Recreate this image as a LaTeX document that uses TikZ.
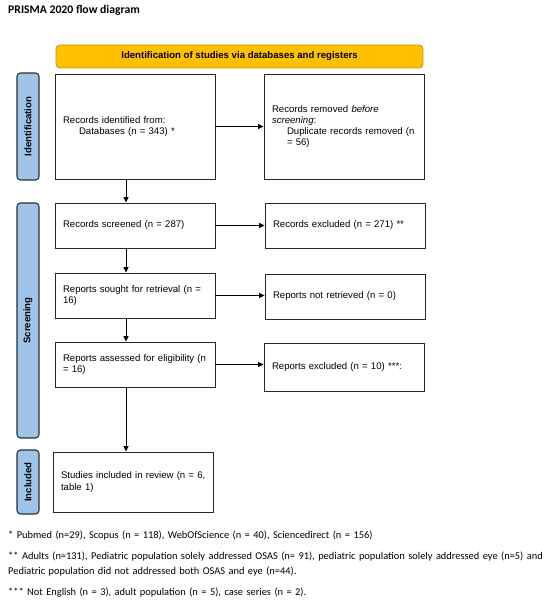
\documentclass[tikz,border=0pt]{standalone}
\usepackage{fontspec}
\setmainfont{Liberation Sans}
\newfontfamily\calfont{Carlito}
\usetikzlibrary{positioning,calc,arrows.meta}

\begin{document}
\begin{tikzpicture}[x=1pt,y=-1pt]
					\definecolor{prismayellow}{RGB}{255,192,0}
					\definecolor{prismaorange}{RGB}{200,150,20}
					\definecolor{phaseblue}{RGB}{160,196,232}
					\definecolor{phaseedge}{RGB}{40,48,60}
					\tikzset{
						box/.style={
							draw=black!85,
							line width=0.9pt,
							minimum width=160pt,
							text width=144pt,
							inner xsep=8pt,
							align=left,
							font=\fontsize{9.6}{11.3}\selectfont
						},
						phase/.style={
							draw=phaseedge,
							fill=phaseblue,
							line width=1.1pt,
							rounded corners=3.5pt,
							minimum height=22pt,
							inner sep=0pt,
							rotate=90,
							font=\fontsize{9.6}{11}\selectfont\bfseries
						},
						arr/.style={
							line width=0.8pt,
							-{Triangle[length=5.5pt,width=5pt]}
						}
					}
					\useasboundingbox (0,0) rectangle (550,604);
					
					% ======= Title =======
					\node[anchor=west,inner sep=0pt,font=\calfont\fontsize{11.7}{14}\selectfont\bfseries] (title) at (8,10) {PRISMA 2020 flow diagram};
					
					% ======= Banner =======
					\node[draw=prismaorange,fill=prismayellow,line width=0.9pt,rounded corners=4pt,
						minimum width=367pt,minimum height=23pt,inner sep=0pt,
						font=\fontsize{9.6}{11}\selectfont\bfseries] (banner) at (239.5,56.5)
						{Identification of studies via databases and registers};
					
					% ======= Phases =======
					\node[phase,minimum width=107pt] (pident) at (28,126.5) {Identification};
					\node[phase,minimum width=235pt] (pscreen) at (28,320.5) {Screening};
					\node[phase,minimum width=64pt] (pincl) at (28,482) {Included};
					
					% ======= Left column =======
					\node[box,minimum height=105pt] (recid) at (135,126.5)
						{Records identified from:\\\hspace*{16pt}Databases (n = 343) *};
					\node[box,minimum height=45pt] (screened) at (135,225.5)
						{Records screened (n = 287)};
					\node[box,minimum height=45pt] (sought) at (135,295.5)
						{Reports sought for retrieval (n =\\16)};
					\node[box,minimum height=45pt] (assessed) at (135,364.5)
						{Reports assessed for eligibility (n\\= 16)};
					\node[box,minimum height=60pt] (included) at (133,482)
						{\mbox{Studies included in review (n = 6,}\\table 1)};
					
					% ======= Right column =======
					\node[box,minimum height=105pt] (recrem) at (344,126.5)
						{Records removed \textit{before}\\\textit{screening}:\\\hspace*{15pt}Duplicate records removed (n\\\hspace*{15pt}= 56)};
					\node[box,minimum height=45pt] (excl) at (345,225.5)
						{Records excluded (n = 271) **};
					\node[box,minimum height=45pt] (notret) at (345,296.5)
						{Reports not retrieved (n = 0)};
					\node[box,minimum height=48pt,minimum width=158pt] (rptexcl) at (344,367)
						{Reports excluded (n = 10) ***:};
					
					% ======= Arrows =======
					\coordinate (vline) at (126,0);
					\draw[arr] (recid.south -| vline) -- (screened.north -| vline);
					\draw[arr] (screened.south -| vline) -- (sought.north -| vline);
					\draw[arr] (sought.south -| vline) -- (assessed.north -| vline);
					\draw[arr] (assessed.south -| vline) -- (included.north -| vline);
					
					\draw[arr] (recid.east) -- (recid.east -| recrem.west);
					\draw[arr] (screened.east) -- (screened.east -| excl.west);
					\draw[arr] (sought.east) -- (sought.east -| notret.west);
					\draw[arr] (assessed.east) -- (assessed.east -| rptexcl.west);
					
					% ======= Footnotes =======
					\tikzset{note/.style={anchor=west,inner sep=0pt,text width=540pt,align=left,
						font=\calfont\fontsize{10.4}{15}\selectfont}}
					\node[note] (note1) at (8,536) {* Pubmed (n=29), Scopus (n = 118), WebOfScience (n = 40), Sciencedirect (n = 156)};
					\node[note] (note2) at (8,564.5) {** Adults (n=131), Pediatric population solely addressed OSAS (n= 91), pediatric population solely addressed eye (n=5) and\\Pediatric population did not addressed both OSAS and eye (n=44).};
					\node[note] (note3) at (8,593) {*** Not English (n = 3), adult population (n = 5), case series (n = 2).};
				\end{tikzpicture}
\end{document}
